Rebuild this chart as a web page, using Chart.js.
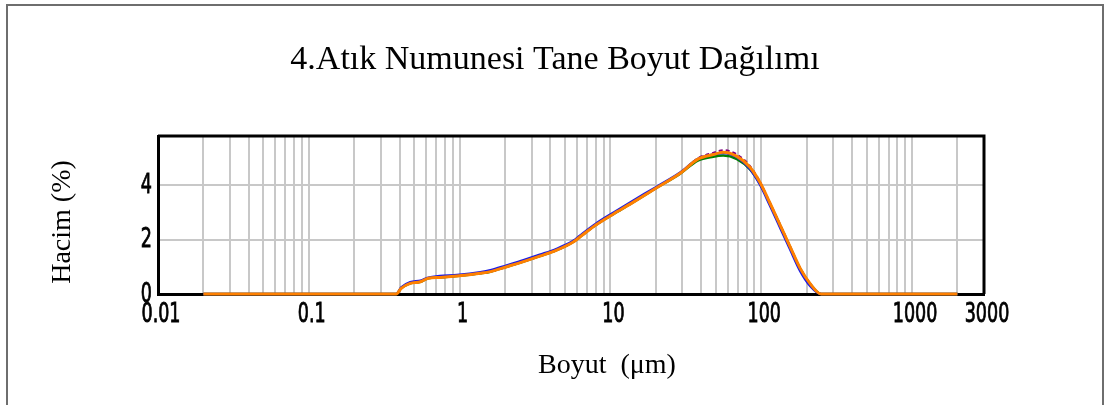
<!DOCTYPE html>
<html><head><meta charset="utf-8">
<script src="https://cdn.jsdelivr.net/npm/chart.js@4.4.1/dist/chart.umd.min.js"></script>
<style>html,body{margin:0;padding:0;background:#fff;}#wrap{width:1104px;height:405px;position:relative;}</style>
</head><body><div id="wrap"><canvas id="c" width="1104" height="405"></canvas></div>
<script>
const chartTitle = '4.Atık Numunesi Tane Boyut Dağılımı';
const xTitle = 'Boyut  (μm)';
const yTitle = 'Hacim (%)';
const sizes        = [0.02, 0.38, 0.41, 0.47, 0.55, 0.62, 0.74, 0.96, 1.37, 1.6, 2.05, 2.65, 3.4, 4.4, 5.7, 6.3, 8, 10.5, 13.5, 20, 29, 38, 48, 56, 69, 84, 98, 114, 133, 155, 181, 211, 250, 2000];
const seriesOrange = [0, 0, 0.21, 0.39, 0.45, 0.58, 0.61, 0.66, 0.76, 0.82, 1.0, 1.19, 1.39, 1.61, 1.92, 2.1, 2.53, 2.94, 3.3, 3.88, 4.43, 4.95, 5.12, 5.2, 5.05, 4.66, 4.1, 3.35, 2.55, 1.75, 0.95, 0.38, 0, 0];
const seriesBlue   = [0, 0, 0.24, 0.43, 0.49, 0.6, 0.66, 0.7, 0.8, 0.87, 1.05, 1.24, 1.44, 1.66, 1.96, 2.15, 2.58, 2.99, 3.36, 3.92, 4.46, 4.96, 5.12, 5.18, 5.02, 4.6, 4.02, 3.26, 2.45, 1.65, 0.85, 0.3, 0, 0];
const seriesGreen  = [0, 0, 0.21, 0.39, 0.45, 0.58, 0.61, 0.66, 0.76, 0.82, 1.0, 1.19, 1.39, 1.61, 1.92, 2.1, 2.53, 2.94, 3.3, 3.88, 4.42, 4.9, 5.04, 5.08, 4.95, 4.58, 4.05, 3.32, 2.53, 1.73, 0.93, 0.37, 0, 0];
const seriesPurple = [0, 0, 0.21, 0.39, 0.45, 0.58, 0.61, 0.66, 0.76, 0.82, 1.0, 1.19, 1.39, 1.61, 1.92, 2.1, 2.53, 2.94, 3.3, 3.88, 4.44, 4.98, 5.18, 5.28, 5.12, 4.7, 4.12, 3.36, 2.56, 1.76, 0.95, 0.38, 0, 0];
const xTickLabels = [0.01, 0.1, 1, 10, 100, 1000, 3000];
const yTickValues = [0, 2, 4];

const pts = arr => sizes.map((x, i) => ({x: x, y: arr[i]}));

// vertical grid positions: 2..10 × each decade, up to 3000
const xGrid = [0.01];
for (let e = -2; e <= 3; e++) {
  for (let m = 2; m <= 10; m++) {
    const v = parseFloat((m * Math.pow(10, e)).toPrecision(6));
    if (v <= 3000) xGrid.push(v);
  }
}
if (!xGrid.includes(3000)) xGrid.push(3000);

const tickFontCss = '26px "DejaVu Sans Condensed", "DejaVu Sans", sans-serif';
const squeeze = 0.75;

function label(ctx, text, x, y) {
  ctx.save();
  ctx.translate(x, y);
  ctx.scale(squeeze, 1);
  ctx.fillText(text, 0, 0);
  ctx.strokeText(text, 0, 0);
  ctx.restore();
}

const decor = {
  id: 'decor',
  beforeDraw(chart) {
    const ctx = chart.ctx;
    ctx.save();
    ctx.fillStyle = '#fff';
    ctx.fillRect(0, 0, chart.width, chart.height);
    ctx.strokeStyle = '#6e6e6e';
    ctx.lineWidth = 2;
    ctx.beginPath();
    ctx.moveTo(7, 410); ctx.lineTo(7, 5); ctx.lineTo(1103, 5); ctx.lineTo(1103, 410);
    ctx.stroke();
    ctx.restore();
  },
  beforeDatasetsDraw(chart) {
    const ctx = chart.ctx, a = chart.chartArea;
    ctx.save();
    ctx.strokeStyle = '#000';
    ctx.lineWidth = 3;
    ctx.beginPath();
    ctx.moveTo(a.left, a.top); ctx.lineTo(a.right, a.top); ctx.lineTo(a.right, a.bottom);
    ctx.stroke();
    ctx.restore();
  },
  afterDraw(chart) {
    const ctx = chart.ctx;
    const xs = chart.scales.x, ys = chart.scales.y;
    ctx.save();
    ctx.fillStyle = '#000';
    ctx.strokeStyle = '#000';
    ctx.lineWidth = 0.8;
    ctx.font = tickFontCss;
    ctx.textBaseline = 'middle';
    ctx.textAlign = 'center';
    xTickLabels.forEach(v => label(ctx, String(v), xs.getPixelForValue(v) + 3, 315));
    ctx.textAlign = 'right';
    yTickValues.forEach(v => label(ctx, String(v), 152, ys.getPixelForValue(v) + 1));
    ctx.textAlign = 'center';
    ctx.textBaseline = 'alphabetic';
    ctx.font = '34px "Liberation Serif", "Times New Roman", serif';
    ctx.fillText(chartTitle, 555, 69);
    ctx.font = '28px "Liberation Serif", "Times New Roman", serif';
    ctx.fillText(xTitle, 607, 373);
    ctx.translate(70, 222);
    ctx.rotate(-Math.PI / 2);
    ctx.fillText(yTitle, 0, 0);
    ctx.restore();
  }
};

const common = {pointRadius: 0, cubicInterpolationMode: 'monotone', clip: 5};

new Chart(document.getElementById('c'), {
  type: 'line',
  data: {
    datasets: [
      Object.assign({label: 'Orange', data: pts(seriesOrange), borderColor: '#ff8000', borderWidth: 3}, common),
      Object.assign({label: 'Blue', data: pts(seriesBlue), borderColor: '#1a1ae6', borderWidth: 2.5}, common),
      Object.assign({label: 'Green', data: pts(seriesGreen), borderColor: '#008000', borderWidth: 2.5}, common),
      Object.assign({label: 'Purple', data: pts(seriesPurple), borderColor: '#800080', borderWidth: 2, borderDash: [4, 3]}, common)
    ]
  },
  options: {
    responsive: false,
    animation: false,
    events: [],
    layout: {padding: {left: 0, top: 136, right: 120, bottom: 0}},
    plugins: {legend: {display: false}, title: {display: false}, tooltip: {enabled: false}},
    scales: {
      x: {
        type: 'logarithmic',
        min: 0.01, max: 3000,
        afterBuildTicks: s => { s.ticks = xGrid.map(v => ({value: v})); },
        afterFit: s => { s.height = 111; },
        grid: {color: '#c8c8c8', lineWidth: 2, drawTicks: false},
        border: {color: '#000', width: 3},
        ticks: {display: false, autoSkip: false, maxRotation: 0}
      },
      y: {
        min: 0, max: 5.8,
        afterBuildTicks: s => { s.ticks = yTickValues.map(v => ({value: v})); },
        afterFit: s => { s.width = 158; },
        grid: {color: '#c8c8c8', lineWidth: 2, drawTicks: false},
        border: {color: '#000', width: 3},
        ticks: {display: false}
      }
    }
  },
  plugins: [decor]
});
</script></body></html>
